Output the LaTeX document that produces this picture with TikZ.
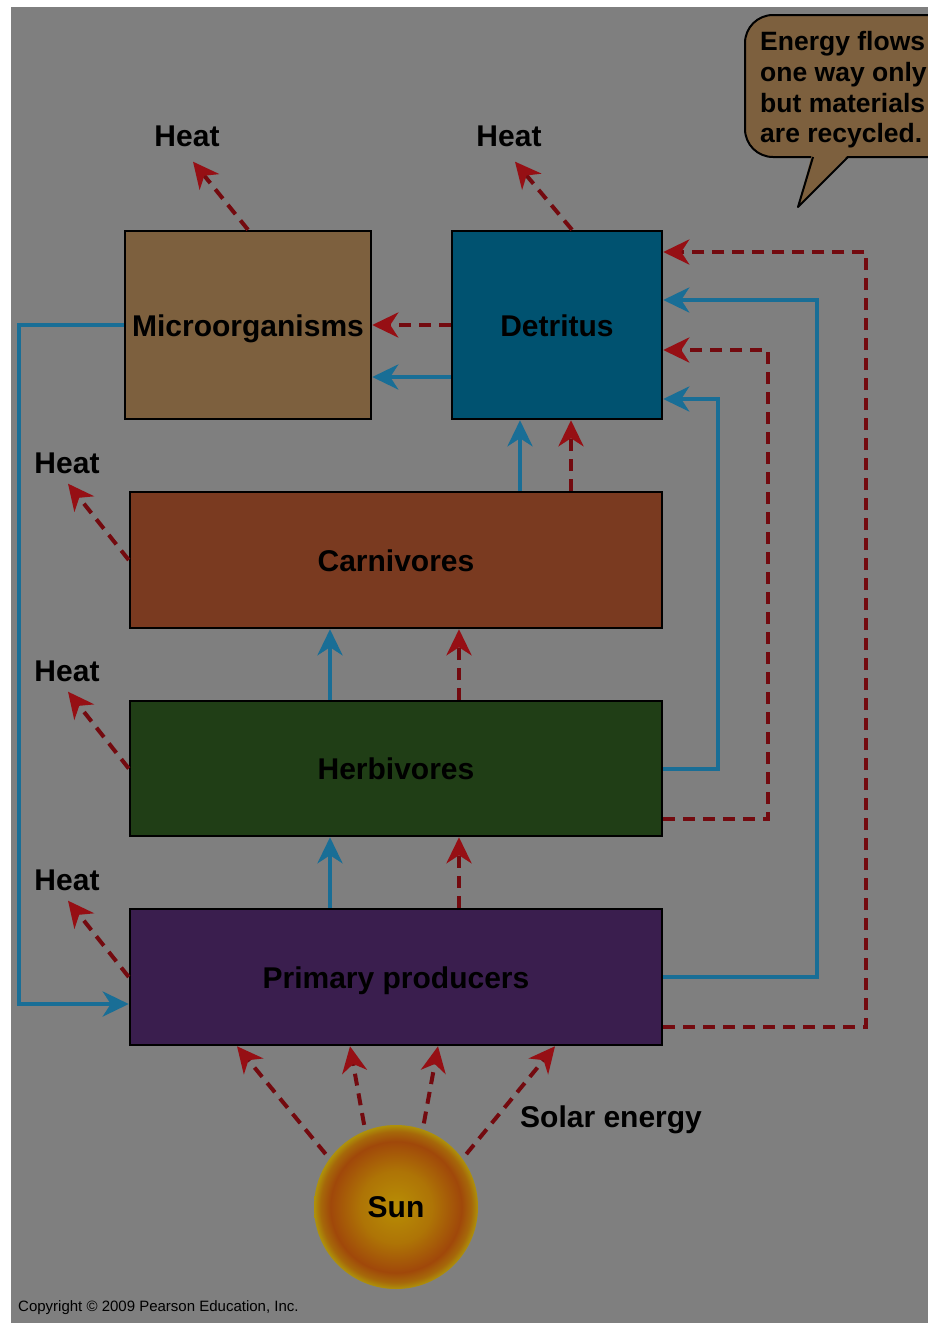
\documentclass[tikz,border=0pt]{standalone}
\usepackage{fontspec}
\setmainfont{Liberation Sans}
\usetikzlibrary{arrows.meta}

\definecolor{bggray}{RGB}{127,127,127}
\definecolor{microbrown}{RGB}{125,96,62}
\definecolor{detrblue}{RGB}{0,82,112}
\definecolor{carnred}{RGB}{122,58,32}
\definecolor{herbgreen}{RGB}{32,62,22}
\definecolor{primpurple}{RGB}{58,30,78}
\definecolor{chemblue}{RGB}{25,110,150}
\definecolor{energyred}{RGB}{115,10,15}
\definecolor{tipred}{RGB}{150,15,20}

\pgfdeclareradialshading{sunglow}{\pgfpoint{0bp}{0bp}}{%
  color(0bp)=(rgb,255:red,184;green,142;blue,5);
  color(11bp)=(rgb,255:red,174;green,116;blue,6);
  color(20bp)=(rgb,255:red,160;green,72;blue,10);
  color(23bp)=(rgb,255:red,166;green,104;blue,10);
  color(25bp)=(rgb,255:red,174;green,146;blue,10);
  color(50bp)=(rgb,255:red,174;green,146;blue,10)}

\newcommand{\labelfont}{\fontsize{30}{36}\selectfont\bfseries}

\tikzset{
  box/.style={draw=black, line width=2.5pt, inner sep=0pt, font=\labelfont,
    text height=22pt, text depth=0pt},
  heatlabel/.style={inner sep=0pt, font=\labelfont},
  chem/.style={draw=chemblue, line width=4pt,
    -{Stealth[length=26pt, width=25pt, inset=8pt]}},
  energy/.style={draw=energyred, line width=4pt, dash pattern=on 12pt off 8pt,
    -{Stealth[length=26pt, width=25pt, inset=8pt, color=tipred]}}
}

\begin{document}
\begin{tikzpicture}[x=1pt, y=-1pt]
    \useasboundingbox (0,0) rectangle (928,1323);
    \clip (0,0) rectangle (928,1323);
    % Background
    \fill[white] (0,0) rectangle (928,1323);
    \fill[bggray] (11,7) rectangle (928,1323);

    % Compartments
    \node[box, fill=microbrown, minimum width=246pt, minimum height=188pt] (micro) at (248,325) {Microorganisms};
    \node[box, fill=detrblue, minimum width=210pt, minimum height=188pt] (detr) at (557,325) {Detritus};
    \node[box, fill=carnred, minimum width=532pt, minimum height=136pt] (carn) at (396,560) {Carnivores};
    \node[box, fill=herbgreen, minimum width=532pt, minimum height=135pt] (herb) at (396,768.5) {Herbivores};
    \node[box, fill=primpurple, minimum width=532pt, minimum height=136pt] (prim) at (396,977) {Primary producers};

    % Sun
    \node[circle, shade, shading=sunglow, minimum size=164pt, inner sep=0pt, font=\labelfont] (sun) at (396,1207) {Sun};
    \node[heatlabel, anchor=west] (solar) at (520,1120) {Solar energy};

    % Heat labels
    \node[heatlabel] (heatM) at (187,136) {Heat};
    \node[heatlabel] (heatD) at (509,136) {Heat};
    \node[heatlabel] (heatC) at (67,463) {Heat};
    \node[heatlabel] (heatH) at (67,671) {Heat};
    \node[heatlabel] (heatP) at (67,880) {Heat};

    % Callout
    \draw[fill=microbrown, line width=2pt, rounded corners=28pt] (745,15) rectangle (975,157);
    \fill[microbrown] (812,154) -- (798,207) -- (849,154) -- cycle;
    \draw[line width=2pt, line join=round] (813,157) -- (798,207) -- (848,157);
    \node[anchor=west, align=left, inner sep=0pt, font=\fontsize{26.5}{30.7}\selectfont\bfseries] (note) at (760,90)
      {Energy flows\\one way only\\but materials\\are recycled.};

    % Heat losses
    \draw[energy] (micro.north) -- ([shift={(6pt,-15pt)}]heatM.south);
    \draw[energy] ([xshift=15pt]detr.north) -- ([shift={(6pt,-15pt)}]heatD.south);
    \draw[energy] (carn.west) -- ([shift={(1pt,-10pt)}]heatC.south);
    \draw[energy] (herb.west) -- ([shift={(1pt,-10pt)}]heatH.south);
    \draw[energy] (prim.west) -- ([shift={(1pt,-10pt)}]heatP.south);

    % Solar energy into producers
    \draw[energy, shorten <=6pt] (sun.144) -- ([xshift=-159pt]prim.south);
    \draw[energy, shorten <=6pt] (sun.112) -- ([xshift=-46pt]prim.south);
    \draw[energy, shorten <=6pt] (sun.71) -- ([xshift=42pt]prim.south);
    \draw[energy, shorten <=6pt] (sun.36) -- ([xshift=159pt]prim.south);

    % Up the food chain
    \draw[chem] ([xshift=-66pt]prim.north) -- ([xshift=-66pt]herb.south);
    \draw[energy] ([xshift=63pt]prim.north) -- ([xshift=63pt]herb.south);
    \draw[chem] ([xshift=-66pt]herb.north) -- ([xshift=-66pt]carn.south);
    \draw[energy] ([xshift=63pt]herb.north) -- ([xshift=63pt]carn.south);
    \draw[chem] ([xshift=-37pt]detr.south |- carn.north) -- ([xshift=-37pt]detr.south);
    \draw[energy] ([xshift=14pt]detr.south |- carn.north) -- ([xshift=14pt]detr.south);

    % Into detritus from the right
    \draw[chem] (herb.east) -- ++(55,0) |- ([yshift=-74pt]detr.east);
    \draw[energy] ([yshift=-50pt]herb.east) -- ++(105,0) |- ([yshift=-25pt]detr.east);
    \draw[chem] (prim.east) -- ++(154,0) |- ([yshift=25pt]detr.east);
    \draw[energy] ([yshift=-50pt]prim.east) -- ++(203,0) |- ([yshift=73pt]detr.east);

    % Detritus to microorganisms, and back to producers
    \draw[energy] (detr.west) -- (micro.east);
    \draw[chem] ([yshift=-52pt]detr.west) -- ([yshift=-52pt]micro.east);
    \draw[chem] (micro.west) -- ++(-105,0) |- ([yshift=-27pt]prim.west);

    % Credit line
    \node[anchor=west, inner sep=0pt, font=\fontsize{15}{18}\selectfont] (credit) at (18,1308) {Copyright © 2009 Pearson Education, Inc.};
\end{tikzpicture}
\end{document}
